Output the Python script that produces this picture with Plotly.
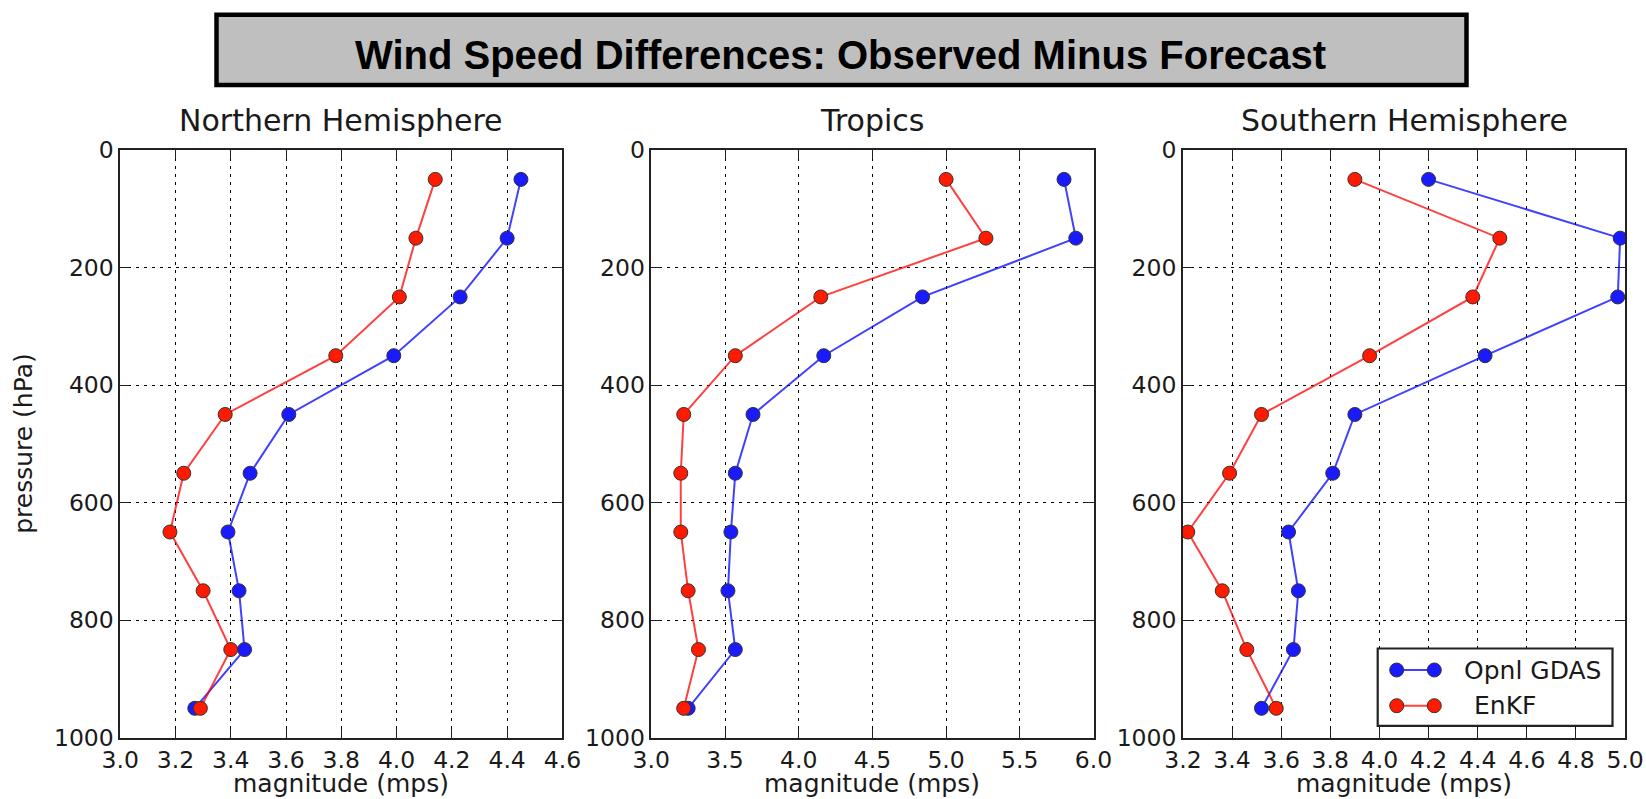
import plotly.graph_objects as go

# Pressure levels (hPa) and mean wind speed differences (m/s) per region
levels = [50, 150, 250, 350, 450, 550, 650, 750, 850, 950]

nh_gdas = [4.45, 4.40, 4.23, 3.99, 3.61, 3.47, 3.39, 3.43, 3.45, 3.27]
nh_enkf = [4.14, 4.07, 4.01, 3.78, 3.38, 3.23, 3.18, 3.30, 3.40, 3.29]

tr_gdas = [5.80, 5.88, 4.84, 4.17, 3.69, 3.57, 3.54, 3.52, 3.57, 3.25]
tr_enkf = [5.00, 5.27, 4.15, 3.57, 3.22, 3.20, 3.20, 3.25, 3.32, 3.22]

sh_gdas = [4.20, 4.98, 4.97, 4.43, 3.90, 3.81, 3.63, 3.67, 3.65, 3.52]
sh_enkf = [3.90, 4.49, 4.38, 3.96, 3.52, 3.39, 3.22, 3.36, 3.46, 3.58]

panel_titles = ["Northern Hemisphere", "Tropics", "Southern Hemisphere"]
series_names = ["Opnl GDAS", "EnKF"]
x_ranges = [(3.0, 4.6, 0.2), (3.0, 6.0, 0.5), (3.2, 5.0, 0.2)]
pressure_ticks = [0, 200, 400, 600, 800, 1000]

W, H = 1646, 799
LINE_COLORS = ["rgba(0,0,255,0.75)", "rgba(255,0,0,0.75)"]
MARKER_COLORS = ["#1a1aff", "#ff1a00"]
EDGE = "#333333"
MARKER_SIZE = 14
TEXT = "#1a1a1a"
BODY_FONT = "DejaVu Sans"


def px_x(v):
    return v / W


def px_y(v):
    return 1 - v / H


# panel frame positions in pixels
panel_left = [120.2, 651.3, 1182.9]
panel_w = 442.2
panel_top, panel_bot = 150.0, 737.7

fig = go.Figure()

panels = [(nh_gdas, nh_enkf), (tr_gdas, tr_enkf), (sh_gdas, sh_enkf)]
for i, (gdas, enkf) in enumerate(panels):
    ax = "" if i == 0 else str(i + 1)
    for j, vals in enumerate((gdas, enkf)):
        fig.add_trace(go.Scatter(
            x=vals, y=levels, mode="lines+markers", name=series_names[j],
            showlegend=False,
            line=dict(color=LINE_COLORS[j], width=2),
            marker=dict(color=MARKER_COLORS[j], size=MARKER_SIZE,
                        line=dict(color=EDGE, width=1)),
            xaxis="x" + ax, yaxis="y" + ax,
        ))

    lo, hi, step = x_ranges[i]
    n = int(round((hi - lo) / step))
    xt = [round(lo + k * step, 2) for k in range(n + 1)]
    common = dict(
        automargin=False,
        showline=True, linecolor="#222222", linewidth=1.5, mirror="allticks",
        ticks="inside", ticklen=9, tickwidth=1.2, tickcolor="#222222",
        showgrid=True, gridcolor="#000000", gridwidth=1.3, griddash="3px,5px",
        zeroline=False, tickfont=dict(family=BODY_FONT, size=23.5, color=TEXT),
    )
    fig.layout["xaxis" + ax] = dict(
        common, domain=[px_x(panel_left[i]), px_x(panel_left[i] + panel_w)],
        range=[lo, hi], tickvals=xt, ticktext=[f"{v:.1f}" for v in xt],
        anchor="y" + ax, ticklabelstandoff=0,
    )
    fig.layout["yaxis" + ax] = dict(
        common, domain=[px_y(panel_bot), px_y(panel_top)],
        range=[1000, 0], tickvals=pressure_ticks,
        ticktext=[str(v) for v in pressure_ticks], anchor="x" + ax,
    )

    cx = px_x(panel_left[i] + panel_w / 2)
    fig.add_annotation(text=panel_titles[i], x=cx, y=px_y(121), xref="paper",
                       yref="paper", showarrow=False, xanchor="center",
                       yanchor="middle",
                       font=dict(family=BODY_FONT, size=30, color=TEXT))
    fig.add_annotation(text="magnitude (mps)", x=cx, y=px_y(783), xref="paper",
                       yref="paper", showarrow=False, xanchor="center",
                       yanchor="middle", borderpad=0,
                       font=dict(family=BODY_FONT, size=25, color=TEXT))

fig.add_annotation(text="pressure (hPa)", x=px_x(24),
                   y=px_y((panel_top + panel_bot) / 2), xref="paper",
                   yref="paper", showarrow=False, textangle=-90,
                   xanchor="center", yanchor="middle",
                   font=dict(family=BODY_FONT, size=25, color=TEXT))

# Title banner
fig.add_shape(type="rect", xref="paper", yref="paper",
              x0=px_x(216.5), x1=px_x(1466.5), y0=px_y(85.0), y1=px_y(14.8),
              fillcolor="#bfbfbf", line=dict(color="#000000", width=4.5),
              layer="below")
fig.add_annotation(text="Wind Speed Differences: Observed Minus Forecast",
                   x=px_x(841), y=px_y(55), xref="paper", yref="paper",
                   showarrow=False, xanchor="center", yanchor="middle",
                   font=dict(family="Liberation Sans, Arial", size=40,
                             color="#000000", weight="bold"))

# Legend box inside the Southern Hemisphere panel (opaque, drawn over grid)
leg_l, leg_r, leg_t, leg_b = 1377.7, 1612.5, 648.5, 725.8
fig.add_shape(type="rect", xref="paper", yref="paper",
              x0=px_x(leg_l), x1=px_x(leg_r), y0=px_y(leg_b), y1=px_y(leg_t),
              fillcolor="#ffffff", line=dict(color="#222222", width=2.2))
row_y = [670.0, 705.7]
sample_x = [1396.7, 1434.3]
label_x = [1461.7, 1471.7]
r = MARKER_SIZE / 2
for j in range(2):
    fig.add_shape(type="line", xref="paper", yref="paper",
                  x0=px_x(sample_x[0]), x1=px_x(sample_x[1]),
                  y0=px_y(row_y[j]), y1=px_y(row_y[j]),
                  line=dict(color=LINE_COLORS[j], width=2))
    for sx in sample_x:
        fig.add_shape(type="circle", xref="paper", yref="paper",
                      xsizemode="pixel", ysizemode="pixel",
                      xanchor=px_x(sx), yanchor=px_y(row_y[j]),
                      x0=-r, x1=r, y0=-r, y1=r,
                      fillcolor=MARKER_COLORS[j],
                      line=dict(color=EDGE, width=1))
    fig.add_annotation(text=series_names[j], x=px_x(label_x[j]),
                       y=px_y(row_y[j]), xref="paper", yref="paper",
                       showarrow=False, xanchor="left", yanchor="middle",
                       font=dict(family=BODY_FONT, size=25, color=TEXT))

fig.update_layout(
    width=W, height=H, autosize=False,
    margin=dict(l=0, r=0, t=0, b=0, pad=0),
    paper_bgcolor="#ffffff", plot_bgcolor="#ffffff",
    showlegend=False,
)

fig.write_html("out.html")
